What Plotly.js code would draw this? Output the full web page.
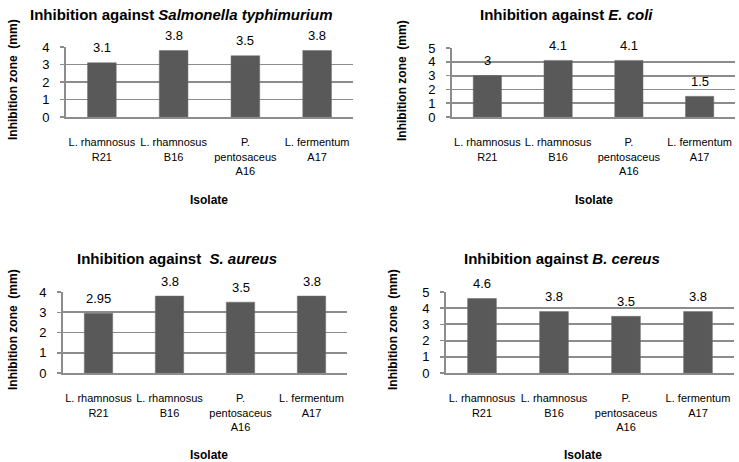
<!DOCTYPE html>
<html>
<head>
<meta charset="utf-8">
<script src="https://cdn.plot.ly/plotly-3.0.1.min.js"></script>
<style>html,body{margin:0;padding:0;background:#fff;}#chart{width:739px;height:462px;}</style>
</head>
<body>
<div id="chart"></div>
<script>
const categories = ["L. rhamnosus<br>R21", "L. rhamnosus<br>B16", "P.<br>pentosaceus<br>A16", "L. fermentum<br>A17"];
const salmonellaValues = [3.1, 3.8, 3.5, 3.8];
const ecoliValues = [3, 4.1, 4.1, 1.5];
const aureusValues = [2.95, 3.8, 3.5, 3.8];
const cereusValues = [4.6, 3.8, 3.5, 3.8];
const panelTitles = [
  "<b>Inhibition against <i>Salmonella typhimurium</i></b>",
  "<b>Inhibition against <i>E. coli</i></b>",
  "<b>Inhibition against  <i>S. aureus</i></b>",
  "<b>Inhibition against <i>B. cereus</i></b>"
];
const yMax = [4, 5, 4, 5];
const xTitle = "Isolate";
const yTitle = "Inhibition zone  (mm)";

const FONT = "Liberation Sans, Arial, sans-serif";
const W = 739, H = 462;
const px = v => v / W;
const py = v => (H - v) / H;

// pixel boxes for each panel: [left, right, top, bottom]
const boxes = [
  [66, 353, 47, 117],
  [452, 735, 48, 117],
  [63, 347, 292, 373],
  [446, 734, 292, 373]
];
const titlePos = [[181, 15], [566, 15], [177, 258], [562, 258]];
const yTitlePos = [[13, 80], [402, 80], [13, 330], [393, 330]];
const xTitlePos = [[209, 200], [594, 200], [209, 455], [583, 455]];

const series = [salmonellaValues, ecoliValues, aureusValues, cereusValues];
const traces = [];
const layout = {
  width: W, height: H,
  margin: {l: 0, r: 0, t: 0, b: 0},
  paper_bgcolor: "#ffffff",
  plot_bgcolor: "#ffffff",
  showlegend: false,
  font: {family: FONT, color: "#000000"},
  annotations: []
};

series.forEach((vals, i) => {
  const n = i === 0 ? "" : String(i + 1);
  traces.push({
    type: "bar",
    x: categories,
    y: vals,
    xaxis: "x" + n,
    yaxis: "y" + n,
    marker: {color: "#595959", line: {color: "#6e6e6e", width: 0.5}},
    width: 0.4,
    hoverinfo: "none"
  });
  const b = boxes[i];
  layout["xaxis" + n] = {
    domain: [px(b[0]), px(b[1])],
    anchor: "y" + n,
    type: "category",
    showgrid: false,
    zeroline: false,
    showline: true,
    linecolor: "#8c8c8c",
    linewidth: 2,
    ticks: "",
    ticklabelstandoff: 14,
    tickfont: {family: FONT, size: 11, color: "#000000"},
    fixedrange: true
  };
  layout["yaxis" + n] = {
    domain: [py(b[3]), py(b[2])],
    anchor: "x" + n,
    range: [0, yMax[i]],
    dtick: 1,
    showgrid: true,
    gridcolor: "#8c8c8c",
    gridwidth: 1.8,
    zeroline: false,
    showline: true,
    linecolor: "#8c8c8c",
    linewidth: 2,
    ticks: "outside",
    ticklen: 4,
    tickcolor: "#8c8c8c",
    tickwidth: 1.5,
    ticklabelstandoff: 8,
    tickfont: {family: FONT, size: 13, color: "#000000"},
    fixedrange: true
  };
  // value labels
  vals.forEach((v, j) => {
    layout.annotations.push({
      x: categories[j], y: v,
      xref: "x" + n, yref: "y" + n,
      text: String(v),
      showarrow: false,
      yanchor: "middle",
      yshift: 15,
      font: {family: FONT, size: 13, color: "#000000"}
    });
  });
  layout.annotations.push({
    x: px(titlePos[i][0]), y: py(titlePos[i][1]),
    xref: "paper", yref: "paper",
    text: panelTitles[i],
    showarrow: false, xanchor: "center", yanchor: "middle",
    font: {family: FONT, size: 15, color: "#000000"}
  });
  layout.annotations.push({
    x: px(yTitlePos[i][0]), y: py(yTitlePos[i][1]),
    xref: "paper", yref: "paper",
    text: "<b>" + yTitle + "</b>",
    textangle: -90,
    showarrow: false, xanchor: "center", yanchor: "middle",
    font: {family: FONT, size: 12, color: "#000000"}
  });
  layout.annotations.push({
    x: px(xTitlePos[i][0]), y: py(xTitlePos[i][1]),
    xref: "paper", yref: "paper",
    text: "<b>" + xTitle + "</b>",
    showarrow: false, xanchor: "center", yanchor: "middle",
    font: {family: FONT, size: 12, color: "#000000"}
  });
});

Plotly.newPlot("chart", traces, layout, {staticPlot: true, displayModeBar: false});
</script>
</body>
</html>
